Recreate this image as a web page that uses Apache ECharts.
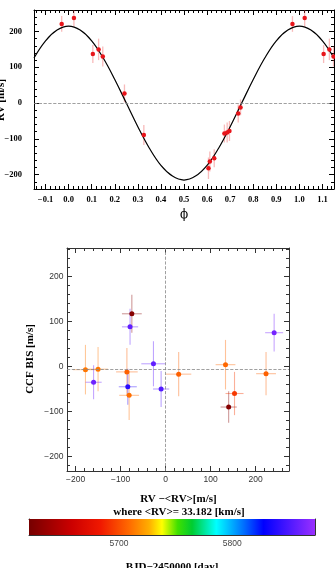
<!DOCTYPE html>
<html>
<head>
<meta charset="UTF-8">
<script src="https://cdn.jsdelivr.net/npm/echarts@6/dist/echarts.min.js"></script>
<style>
  html, body { margin: 0; padding: 0; background: #fff; }
  #main { width: 335px; height: 568px; }
</style>
</head>
<body>
<div id="main"></div>
<script>
// phase-folded radial velocities (top panel)
const phase = [0.97, 0.023, 0.105, 0.13, 0.148, 0.242, 0.326, 0.606, 0.612, 0.631, 0.675, 0.687, 0.697, 0.735, 0.745];
const rv = [221, 238, 137, 150, 130, 27, -89, -182, -163, -154, -85, -82, -78, -29, -12];
const rvErr = [22, 25, 25, 30, 28, 25, 28, 30, 28, 25, 25, 28, 28, 25, 22];

// orbit model
const modelPhase = [-0.15, -0.10, -0.05, 0.00, 0.05, 0.10, 0.15, 0.20, 0.25, 0.30, 0.35, 0.40, 0.45, 0.50,
  0.55, 0.60, 0.65, 0.70, 0.75, 0.80, 0.85, 0.90, 0.95, 1.00, 1.05, 1.10, 1.15];
const modelRv = [126, 174, 204, 215, 204, 174, 126, 66, 0, -66, -126, -174, -204, -215,
  -204, -174, -126, -66, 0, 66, 126, 174, 204, 215, 204, 174, 126];

// bisector vs RV residual (bottom panel)
const rvRes = [-178, -150, -160, -75, -79, -86, -84, -81, -27, -10, 29, 133, 140, 153, 223, 241];
const bis = [-7, -6, -35, 117, 88, -12, -45, -64, 6, -50, -17, 4, -90, -60, -16, 75];
const rvResErr = [28, 22, 18, 22, 18, 24, 20, 22, 27, 18, 28, 22, 18, 20, 22, 20];
const bisErr = [55, 49, 38, 42, 40, 53, 40, 55, 50, 40, 49, 55, 35, 48, 48, 42];
const bjd = [5712, 5712, 5860, 5628, 5856, 5706, 5840, 5710, 5856, 5852, 5706, 5708, 5627, 5694, 5706, 5862];
const bisMean = -7;

// tick labels
const phaseTicks = [-0.1, 0, 0.1, 0.2, 0.3, 0.4, 0.5, 0.6, 0.7, 0.8, 0.9, 1.0, 1.1];
const rvTicks = [-200, -100, 0, 100, 200];
const resTicks = [-200, -100, 0, 100, 200];
const bisTicks = [-200, -100, 0, 100, 200];
const bjdLabels = [5700, 5800];

const cbMin = 5620.6, cbMax = 5873;
const cmap = [
  [0.00, '#760000'], [0.15, '#cc0000'], [0.25, '#f01800'], [0.35, '#ff6a00'],
  [0.42, '#ffae00'], [0.465, '#ffff00'], [0.52, '#40e000'], [0.57, '#00cc30'],
  [0.655, '#00ffff'], [0.75, '#0070ff'], [0.82, '#0000ff'], [1.00, '#9a30ff']
];

function hex(c) { return [1, 3, 5].map(i => parseInt(c.substr(i, 2), 16)); }
function colorAt(v) {
  const t = Math.max(0, Math.min(1, (v - cbMin) / (cbMax - cbMin)));
  for (let i = 1; i < cmap.length; i++) {
    if (t <= cmap[i][0]) {
      const a = hex(cmap[i - 1][1]), b = hex(cmap[i][1]);
      const f = (t - cmap[i - 1][0]) / (cmap[i][0] - cmap[i - 1][0]);
      return a.map((x, k) => Math.round(x + (b[k] - x) * f));
    }
  }
  return hex(cmap[cmap.length - 1][1]);
}
function rgba(c, a) { return `rgba(${c[0]},${c[1]},${c[2]},${a})`; }
function steps(a, b, s) { const out = []; for (let v = a; v <= b + 1e-9; v += s) out.push(Math.round(v * 1000) / 1000); return out; }
function minus(v, d) { const s = d ? Math.abs(v).toFixed(d) : String(Math.abs(v)); return (v < 0 ? '\u2212' : '') + s; }

// points folded into the displayed range
const topPts = [];
phase.forEach((p, i) => {
  [p - 1, p, p + 1].forEach(q => { if (q >= -0.15 && q <= 1.15) topPts.push([q, rv[i], rvErr[i]]); });
});

// frame axes: main ticks + minor ticks on both sides
function frame(dim, grid, min, max, majors, minors, labelVals, label, color, lens) {
  const base = { type: 'value', gridIndex: grid, min, max, splitLine: { show: false }, silent: true };
  const pos = dim === 'x' ? ['bottom', 'top'] : ['left', 'right'];
  const out = [];
  pos.forEach((p, i) => {
    out.push(Object.assign({}, base, {
      position: p,
      axisLine: { show: true, onZero: false, lineStyle: { color, width: 1 } },
      axisTick: { show: true, inside: true, length: lens[0], customValues: majors, lineStyle: { color, width: 1 } },
      axisLabel: i === 0 && label ? Object.assign({ show: true, customValues: labelVals }, label) : { show: false }
    }));
    out.push(Object.assign({}, base, {
      position: p,
      axisLine: { show: false, onZero: false },
      axisTick: { show: minors.length > 0, inside: true, length: lens[1], customValues: minors, lineStyle: { color, width: 1 } },
      axisLabel: { show: false }
    }));
  });
  return out;
}

const serifLbl = { fontFamily: 'Liberation Serif', fontWeight: 'bold', fontSize: 8.5, color: '#000' };
const sansLbl = { fontFamily: 'Liberation Sans', fontSize: 8.5, color: '#333' };

const xAxis = [
  ...frame('x', 0, -0.15, 1.15, phaseTicks, steps(-0.14, 1.14, 0.02), phaseTicks,
    Object.assign({ margin: 6, formatter: v => minus(v, 1) }, serifLbl), '#000', [5, 3]),
  ...frame('x', 1, -219, 274, resTicks, steps(-200, 260, 20), resTicks,
    Object.assign({ margin: 4, formatter: v => minus(v) }, sansLbl), '#333', [5, 3]),
  ...frame('x', 2, cbMin, cbMax, steps(5640, 5860, 20), [], bjdLabels,
    Object.assign({ margin: 4, formatter: v => String(v) }, sansLbl, { color: '#444' }), '#333', [3, 0])
];
const yAxis = [
  ...frame('y', 0, -240, 260, rvTicks, steps(-240, 260, 20), rvTicks,
    Object.assign({ margin: 12, formatter: v => minus(v) }, serifLbl), '#000', [5, 3]),
  ...frame('y', 1, -232, 263, bisTicks, steps(-220, 260, 20), bisTicks,
    Object.assign({ margin: 3.5, formatter: v => minus(v) }, sansLbl), '#333', [5, 3]),
  { type: 'value', gridIndex: 2, min: 0, max: 1, position: 'left', splitLine: { show: false },
    axisLine: { show: true, lineStyle: { color: '#333' } }, axisTick: { show: false }, axisLabel: { show: false } },
  { type: 'value', gridIndex: 2, min: 0, max: 1, position: 'right', splitLine: { show: false },
    axisLine: { show: true, lineStyle: { color: '#333' } }, axisTick: { show: false }, axisLabel: { show: false } }
];

const dashed = { type: 'dashed', color: '#888', width: 0.8 };
const titleFont = 'bold 11px "Liberation Serif"';

const chart = echarts.init(document.getElementById('main'));
chart.setOption({
  animation: false,
  grid: [
    { left: 34, top: 10, width: 300, height: 179 },
    { left: 67, top: 248, width: 222, height: 223 },
    { left: 29, top: 519, width: 286, height: 16 }
  ],
  xAxis,
  yAxis,
  graphic: [
    { type: 'text', x: 1, y: 100, rotation: Math.PI / 2, style: { text: 'RV [m/s]', font: titleFont, textAlign: 'center', textVerticalAlign: 'middle', fill: '#000' } },
    { type: 'text', x: 184, y: 215, style: { text: '\u03D5', font: '12px "DejaVu Serif"', textAlign: 'center', textVerticalAlign: 'middle', fill: '#000' } },
    { type: 'text', x: 30, y: 359, rotation: Math.PI / 2, style: { text: 'CCF BIS [m/s]', font: titleFont, textAlign: 'center', textVerticalAlign: 'middle', fill: '#000' } },
    { type: 'text', x: 178.5, y: 499, style: { text: 'RV \u2212<RV>[m/s]', font: titleFont, textAlign: 'center', textVerticalAlign: 'middle', fill: '#000' } },
    { type: 'text', x: 179, y: 512, style: { text: 'where <RV>= 33.182 [km/s]', font: titleFont, textAlign: 'center', textVerticalAlign: 'middle', fill: '#000' } },
    { type: 'text', x: 172, y: 567, style: { text: 'BJD\u22122450000 [day]', font: titleFont, textAlign: 'center', textVerticalAlign: 'middle', fill: '#000' } }
  ],
  series: [
    {
      type: 'line', xAxisIndex: 0, yAxisIndex: 0, smooth: 0.4, showSymbol: false, silent: true,
      data: modelPhase.map((p, i) => [p, modelRv[i]]),
      lineStyle: { color: '#000', width: 1.2 },
      markLine: { silent: true, symbol: ['none', 'none'], label: { show: false }, lineStyle: dashed, data: [{ yAxis: 0 }] },
      z: 3
    },
    {
      type: 'custom', xAxisIndex: 0, yAxisIndex: 0, clip: true, silent: true,
      data: topPts,
      renderItem: (params, api) => {
        const x = api.value(0), y = api.value(1), e = api.value(2);
        const a = api.coord([x, y - e]), b = api.coord([x, y + e]);
        return { type: 'line', shape: { x1: a[0], y1: a[1], x2: b[0], y2: b[1] }, style: { stroke: 'rgba(235,60,60,0.35)', lineWidth: 1.3 } };
      },
      z: 2
    },
    {
      type: 'scatter', xAxisIndex: 0, yAxisIndex: 0, symbolSize: 4.5, silent: true,
      data: topPts.map(p => [p[0], p[1]]),
      itemStyle: { color: '#e8141a', opacity: 1 },
      z: 4
    },
    {
      type: 'custom', xAxisIndex: 4, yAxisIndex: 4, clip: true, silent: true,
      data: rvRes.map((x, i) => [x, bis[i], rvResErr[i], bisErr[i], bjd[i]]),
      renderItem: (params, api) => {
        const x = api.value(0), y = api.value(1), ex = api.value(2), ey = api.value(3);
        const col = rgba(colorAt(api.value(4)), 0.4);
        const l = api.coord([x - ex, y]), r = api.coord([x + ex, y]);
        const t = api.coord([x, y + ey]), b = api.coord([x, y - ey]);
        return { type: 'group', children: [
          { type: 'line', shape: { x1: l[0], y1: l[1], x2: r[0], y2: r[1] }, style: { stroke: col, lineWidth: 1.1 } },
          { type: 'line', shape: { x1: t[0], y1: t[1], x2: b[0], y2: b[1] }, style: { stroke: col, lineWidth: 1.1 } }
        ] };
      },
      z: 2
    },
    {
      type: 'scatter', xAxisIndex: 4, yAxisIndex: 4, symbolSize: 5, silent: true,
      data: rvRes.map((x, i) => [x, bis[i], bjd[i]]),
      itemStyle: { color: p => rgba(colorAt(p.value[2]), 1), opacity: 1 },
      markLine: { silent: true, symbol: ['none', 'none'], label: { show: false }, lineStyle: dashed,
        data: [{ yAxis: bisMean }, { xAxis: 0 }] },
      z: 4
    },
    {
      type: 'custom', xAxisIndex: 8, yAxisIndex: 8, silent: true,
      data: [[cbMin, cbMax]],
      renderItem: (params, api) => {
        const a = api.coord([api.value(0), 1]), b = api.coord([api.value(1), 0]);
        return { type: 'rect', shape: { x: a[0], y: a[1], width: b[0] - a[0], height: b[1] - a[1] },
          style: { fill: new echarts.graphic.LinearGradient(0, 0, 1, 0, cmap.map(s => ({ offset: s[0], color: s[1] }))) } };
      },
      z: 1
    }
  ]
});
</script>
</body>
</html>
